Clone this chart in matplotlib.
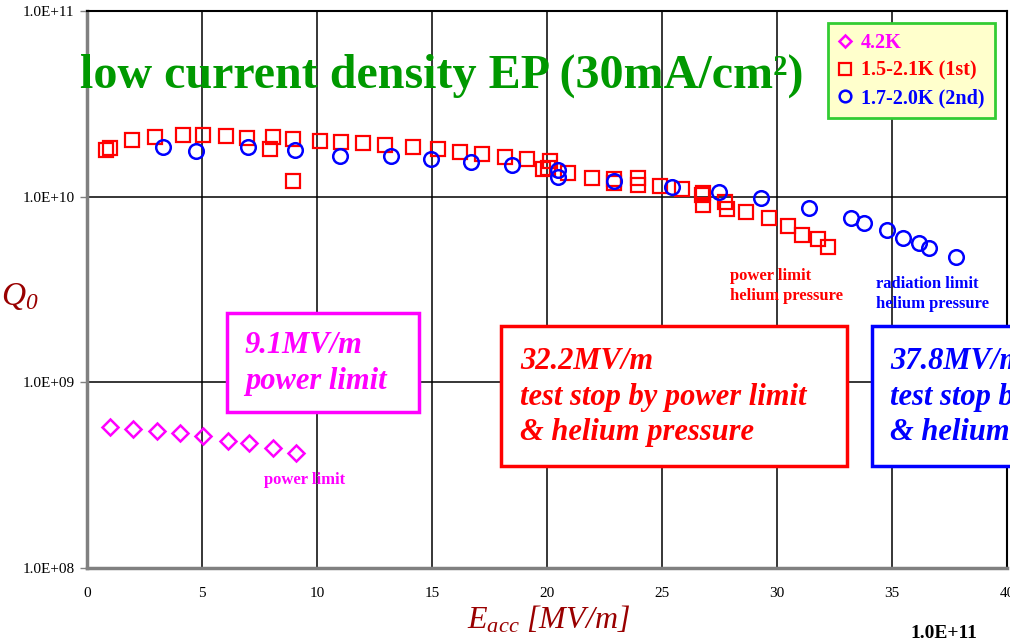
import matplotlib
matplotlib.use("Agg")
import matplotlib.pyplot as plt
import numpy as np
from matplotlib.patches import Rectangle
from matplotlib.ticker import FixedLocator, FuncFormatter

plt.rcParams['font.family'] = ['Liberation Serif', 'DejaVu Serif']
plt.rcParams['mathtext.fontset'] = 'custom'
plt.rcParams['mathtext.it'] = 'Liberation Serif:italic'
plt.rcParams['mathtext.rm'] = 'Liberation Serif:italic'

# 4.2K run (diamonds)
e_42k = [1.0, 2.0, 3.04, 4.04, 5.04, 6.13, 7.04, 8.09, 9.1]
q_42k = [5.75e8, 5.61e8, 5.47e8, 5.34e8, 5.14e8, 4.83e8, 4.72e8, 4.44e8, 4.17e8]

# 1.5-2.1K, 1st test (squares)
e_1st = [0.83, 1.0, 1.96, 2.96, 4.17, 5.04, 6.04, 6.96, 8.09, 7.96, 8.96, 8.96,
         10.13, 11.04, 12.0, 12.96, 14.17, 15.26, 16.22, 17.17, 18.17, 19.13,
         20.13, 19.83, 20.04, 20.91, 21.96, 22.91, 22.91, 23.96, 23.96, 24.91,
         25.87, 26.74, 26.78, 26.78, 27.74, 27.83, 28.65, 29.65, 30.48, 31.09,
         31.78, 32.2]
q_1st = [1.78e10, 1.83e10, 2.02e10, 2.10e10, 2.15e10, 2.15e10, 2.12e10, 2.07e10,
         2.10e10, 1.81e10, 2.05e10, 1.22e10, 2.00e10, 1.97e10, 1.95e10, 1.90e10,
         1.85e10, 1.81e10, 1.74e10, 1.70e10, 1.64e10, 1.60e10, 1.56e10, 1.41e10,
         1.43e10, 1.34e10, 1.26e10, 1.25e10, 1.19e10, 1.26e10, 1.16e10, 1.14e10,
         1.10e10, 1.02e10, 1.05e10, 9.0e9, 9.36e9, 8.6e9, 8.28e9, 7.68e9, 6.95e9,
         6.22e9, 5.92e9, 5.36e9]

# 1.7-2.0K, 2nd test (circles)
e_2nd = [3.30, 4.74, 7.0, 9.04, 11.0, 13.2, 14.96, 16.7, 18.48, 20.48, 20.48,
         22.91, 25.43, 27.48, 29.3, 31.39, 33.22, 33.78, 34.78, 35.48, 36.17,
         36.6, 37.8]
q_2nd = [1.85e10, 1.76e10, 1.85e10, 1.78e10, 1.66e10, 1.66e10, 1.60e10, 1.54e10,
         1.48e10, 1.39e10, 1.28e10, 1.22e10, 1.13e10, 1.06e10, 9.84e9, 8.69e9,
         7.68e9, 7.22e9, 6.62e9, 6.0e9, 5.64e9, 5.30e9, 4.73e9]

x_ticks = [0, 5, 10, 15, 20, 25, 30, 35, 40]
y_ticks = [1e8, 1e9, 1e10, 1e11]

W, H = 1010, 638
fig = plt.figure(figsize=(W / 100, H / 100), dpi=100)
ax = fig.add_axes([87 / W, 1 - 568 / H, 920 / W, 557 / H])


def fx(px):
    return px / W


def fy(py):
    return 1 - py / H


ax.plot(e_42k, q_42k, 'D', ls='none', ms=8, mfc='none', mec='#FF00FF', mew=1.8,
        label='4.2K', zorder=5)
ax.plot(e_1st, q_1st, 's', ls='none', ms=10, mfc='none', mec='#FF0000', mew=1.6,
        label='1.5-2.1K (1st)', zorder=5)
ax.plot(e_2nd, q_2nd, 'o', ls='none', ms=10.5, mfc='none', mec='#0000FF', mew=1.8,
        label='1.7-2.0K (2nd)', zorder=5)

ax.set_yscale('log')
ax.set_xlim(0, 40)
ax.set_ylim(1e8, 1e11)
ax.xaxis.set_major_locator(FixedLocator(x_ticks))
ax.yaxis.set_major_locator(FixedLocator(y_ticks))
ax.yaxis.set_minor_locator(FixedLocator([]))
ax.yaxis.set_major_formatter(FuncFormatter(lambda v, p: '1.0E+%02d' % round(np.log10(v))))
ax.grid(True, color='black', lw=1.1)
ax.tick_params(axis='y', length=5, width=1, color='#808080', labelsize=11, pad=4)
ax.tick_params(axis='x', length=0, labelsize=11, pad=14)
for s in ['left', 'bottom']:
    ax.spines[s].set_color('#808080')
    ax.spines[s].set_linewidth(2.5)
for s in ['top', 'right']:
    ax.spines[s].set_color('black')
    ax.spines[s].set_linewidth(1.5)

leg = ax.legend(loc='upper right', bbox_to_anchor=(0.9865, 0.9785), borderaxespad=0,
                fancybox=False, frameon=True, handlelength=0.7, handletextpad=0.45,
                markerscale=0.8, labelcolor='markeredgecolor', borderpad=0.5,
                labelspacing=0.38,
                prop={'family': 'Liberation Serif', 'weight': 'bold', 'size': 14.5})
leg.get_frame().set_facecolor('#FFFFCC')
leg.get_frame().set_edgecolor('#33CC33')
leg.get_frame().set_linewidth(2)
leg.get_frame().set_alpha(1)

# title inside plot
fig.text(fx(80), fy(88), 'low current density EP (30mA/cm²)', color='#009900',
         fontsize=34.6, fontweight='bold', va='baseline', ha='left', zorder=10)

# axis labels
fig.text(fx(549), fy(620), r'$E_{acc}\ [MV/m]$', color='#990000', fontsize=23,
         ha='center', va='center')
fig.text(fx(1), fy(297), r'$Q_0$', color='#990000', fontsize=24,
         ha='left', va='center')

# annotation boxes
boxes = [((227, 313, 419, 412), '#FF00FF', '9.1MV/m\npower limit', 245),
         ((501, 326, 847, 466), '#FF0000',
          '32.2MV/m\ntest stop by power limit\n& helium pressure', 520),
         ((872, 326, 1040, 466), '#0000FF',
          '37.8MV/m\ntest stop by radiation limit\n& helium pressure', 890)]
for (x0, y0, x1, y1), col, txt, tx in boxes:
    fig.patches.append(Rectangle((fx(x0), fy(y1)), fx(x1) - fx(x0), fy(y0) - fy(y1),
                                 transform=fig.transFigure, fill=True, fc='white',
                                 ec=col, lw=2.5, zorder=3))
    fig.text(fx(tx), fy((y0 + y1) / 2 + 1), txt, color=col, fontsize=22,
             fontweight='bold', fontstyle='italic', ha='left', va='center',
             linespacing=1.28, zorder=4, clip_on=False)

# small notes
fig.text(fx(305), fy(480), 'power limit', color='#FF00FF', fontsize=12,
         fontweight='bold', ha='center', va='center')
fig.text(fx(730), fy(286), 'power limit\nhelium pressure', color='#FF0000',
         fontsize=12, fontweight='bold', ha='left', va='center', linespacing=1.35)
fig.text(fx(876), fy(294), 'radiation limit\nhelium pressure', color='#0000FF',
         fontsize=12, fontweight='bold', ha='left', va='center', linespacing=1.35)

# piece of the next chart at the bottom edge
fig.text(fx(910), fy(625), '1.0E+11', color='black', fontsize=14,
         fontweight='bold', ha='left', va='top')

fig.savefig('out.png', dpi=100)
